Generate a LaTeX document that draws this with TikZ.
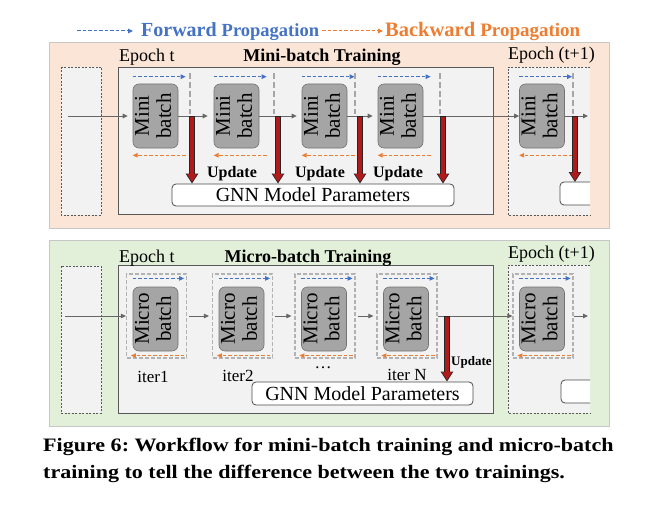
\documentclass[tikz,border=0pt]{standalone}
\usepackage{fontspec}
\setmainfont{Liberation Serif}
\newfontfamily\capfont[FakeStretch=1.16]{Liberation Serif}
\usetikzlibrary{arrows.meta}

\definecolor{peach}{HTML}{FBE5D6}
\definecolor{mint}{HTML}{E2F0D9}
\definecolor{boxgray}{HTML}{F2F2F2}
\definecolor{batchgray}{HTML}{A5A5A5}
\definecolor{fwdblue}{HTML}{4472C4}
\definecolor{bwdorange}{HTML}{ED7D31}
\definecolor{updred}{HTML}{B01A1A}

\newcommand{\batchlbl}[1]{\rotatebox{90}{\fontsize{21}{22}\selectfont
  \begin{tabular}{@{}c@{}}#1\\batch\end{tabular}}}

\begin{document}
\begin{tikzpicture}[x=1pt,y=-1pt,
    every node/.style={inner sep=0pt},
    panel/.style={draw=black!22,line width=0.8pt},
    stage/.style={draw=black!65,fill=boxgray,line width=0.8pt},
    epochbox/.style={draw=black!65,line width=0.7pt,dash pattern=on 2pt off 1.5pt},
    mbatch/.style={draw=black!55,fill=batchgray,rounded corners=6pt,
      minimum width=45pt,minimum height=64pt,line width=0.6pt},
    iterbox/.style={draw=black!30,line width=1.2pt,dash pattern=on 4pt off 2pt,
      minimum width=60pt,minimum height=84pt},
    params/.style={draw=black!70,fill=white,rounded corners=4pt,line width=0.8pt,
      font=\fontsize{20}{22}\selectfont},
    flow/.style={draw=black!60,line width=1pt,-{Triangle[length=5pt,width=4.5pt]}},
    fwd/.style={draw=fwdblue,line width=1pt,dash pattern=on 3.5pt off 2pt,
      -{Triangle[length=5pt,width=4.5pt]}},
    bwd/.style={draw=bwdorange,line width=1pt,dash pattern=on 3.5pt off 2pt,
      -{Triangle[length=5pt,width=4.5pt]}},
    sep/.style={draw=black!35,line width=1.3pt,dash pattern=on 6pt off 3pt},
    upd/.style={draw=black!85,line width=6pt,-{Triangle[length=10pt,width=12pt]},
      postaction={draw=updred,line width=4.4pt,-{Triangle[length=8pt,width=9.2pt]},
        shorten >=1.4pt,shorten <=0.8pt}},
    lbl/.style={font=\fontsize{18}{20}\selectfont},
    boldlbl/.style={font=\fontsize{18}{20}\selectfont\bfseries},
    updlbl/.style={font=\fontsize{16}{18}\selectfont\bfseries}]
  \useasboundingbox (0,0) rectangle (659,527);

  % legend
  \node[anchor=base west,text=fwdblue,font=\bfseries] (fwdlbl) at (141,37)
    {\fontsize{20}{22}\selectfont Forward \fontsize{18.5}{20}\selectfont Propagation};
  \node[anchor=base west,text=bwdorange,font=\bfseries] (bwdlbl) at (385,37)
    {\fontsize{20.5}{22}\selectfont Backward \fontsize{19}{20}\selectfont Propagation};
  \coordinate (fwdstart) at (77,31);
  \coordinate (bwdstart) at (322,31);
  \draw[fwd] (fwdstart) -- ([xshift=-8pt]fwdstart -| fwdlbl.west);
  \draw[bwd] (bwdstart) -- ([xshift=-2pt]bwdstart -| bwdlbl.west);

  % mini-batch training
  \draw[panel,fill=peach] (49,42) rectangle (609,228);
  \draw[epochbox,fill=boxgray] (61,67) rectangle (101,215);
  \draw[stage] (118,67) rectangle (493,214);
  \fill[boxgray] (508,67) rectangle (590,215);
  \draw[epochbox] (590,67) -| (508,215) -- (590,215);
  \node[lbl,anchor=base west] (ep1) at (119,62) {Epoch t};
  \node[boldlbl,anchor=base] (tr1) at (322,62) {Mini-batch Training};
  \node[lbl,anchor=base west] (epn1) at (508,60) {Epoch (t+1)};
  \node[params,minimum width=282pt,minimum height=22pt] (gnn1) at (313,195) {GNN Model Parameters};
  \draw[params] (590,182) -- (560,182) -- (560,205) -- (590,205);
  \coordinate (nxt1) at (575,182);

  \foreach \i/\x/\s/\u in {1/155.5/190/192,2/236.5/274/278,3/324.5/355/360,
      4/400.5/440/443,5/542/573/575}{
    \node[mbatch] (mb\i) at (\x,116) {\batchlbl{Mini}};
    \draw[fwd] ([yshift=7pt]mb\i.north west) -- ++(53,0);
    \draw[bwd] ([xshift=53pt,yshift=-7pt]mb\i.south west) -- ++(-53,0);
    \draw[sep] (\s,73) -- (\s,114);
    \coordinate (u\i) at (\u,116);
  }

  \coordinate (in1) at (68,116);
  \coordinate (out1) at (588,116);
  \draw[flow,shorten >=5pt] (in1) -- (mb1);
  \draw[flow,shorten >=6pt] (mb1) -- (mb2);
  \draw[flow,shorten >=5pt] (mb2) -- (mb3);
  \draw[flow,shorten >=5pt] (mb3) -- (mb4);
  \draw[flow] (mb4) -- (mb5);
  \draw[flow] (mb5) -- (out1);

  \foreach \i in {1,...,4}
    \draw[upd] (u\i) -- (u\i |- gnn1.north);
  \draw[upd] (u5) -- (nxt1);
  \foreach \x in {232,320,398}
    \node[updlbl,anchor=base] (updt\x) at (\x,177) {Update};

  % micro-batch training
  \draw[panel,fill=mint] (49,240) rectangle (609,426);
  \draw[epochbox,fill=boxgray] (61,266) rectangle (101,413);
  \draw[stage] (118,265) rectangle (493,413);
  \fill[boxgray] (508,265) rectangle (590,413);
  \draw[epochbox] (590,265) -| (508,413) -- (590,413);
  \node[lbl,anchor=base west] (ep2) at (119,262) {Epoch t};
  \node[boldlbl,anchor=base] (tr2) at (308,262) {Micro-batch Training};
  \node[lbl,anchor=base west] (epn2) at (508,258) {Epoch (t+1)};
  \node[params,minimum width=221pt,minimum height=23pt] (gnn2) at (362.5,393.5) {GNN Model Parameters};
  \draw[params] (590,380) -- (561,380) -- (561,403) -- (590,403);

  \foreach \i/\x in {1/156.5,2/242.5,3/325,4/407,5/543}{
    \node[iterbox] (fr\i) at (\x,316) {};
    \node[mbatch] (mc\i) at (\x-1,319) {\batchlbl{Micro}};
    \draw[fwd] ([xshift=7pt,yshift=-5pt]fr\i.north west) -- ([xshift=-3pt,yshift=-5pt]fr\i.north east);
    \draw[bwd] ([xshift=-3pt,yshift=3pt]fr\i.south east) -- ([xshift=5pt,yshift=3pt]fr\i.south west);
  }

  \coordinate (in2) at (65,316);
  \coordinate (out2) at (588,316);
  \draw[flow] (in2) -- (fr1);
  \foreach \a/\b in {1/2,2/3,3/4}
    \draw[flow,shorten <=2pt,shorten >=3pt] (fr\a) -- (fr\b);
  \draw[flow] (fr4) -- (fr5);
  \draw[flow] (fr5) -- (out2);

  \coordinate (u6) at (447,316);
  \draw[upd] (u6) -- (u6 |- gnn2.north);
  \node[font=\fontsize{13}{15}\selectfont\bfseries,anchor=west] (updt6) at (451,362) {Update};

  \node[font=\fontsize{17}{19}\selectfont,anchor=base] (it1) at (153,382) {iter1};
  \node[font=\fontsize{17}{19}\selectfont,anchor=base] (it2) at (238,381) {iter2};
  \node[font=\fontsize{17}{19}\selectfont] (itd) at (323,368) {\dots};
  \node[font=\fontsize{17}{19}\selectfont,anchor=base] (itn) at (407,380) {iter N};

  % caption
  \node[anchor=base west,align=left,font=\capfont\fontsize{19}{27}\selectfont\bfseries\frenchspacing] (cap) at (43,478)
    {Figure 6: Workflow for mini-batch training and micro-batch\\
     training to tell the difference between the two trainings.};
\end{tikzpicture}
\end{document}
